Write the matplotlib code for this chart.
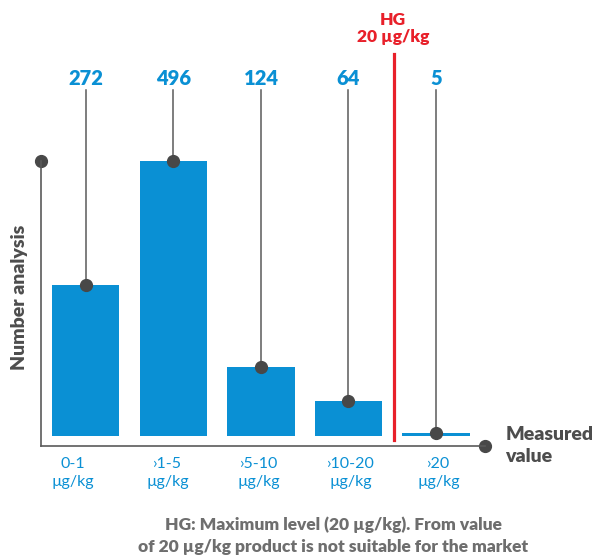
import numpy as np
import matplotlib
matplotlib.use("Agg")
import matplotlib.pyplot as plt

plt.rcParams['font.family'] = ['Lato', 'DejaVu Sans']

# analysis counts per measured-value class
classes = ["0-1", "›1-5", "›5-10", "›10-20", "›20"]
unit = "µg/kg"
counts = [272, 496, 124, 64, 5]
limit_label = ["HG", "20 µg/kg"]
footnote = ["HG: Maximum level (20 µg/kg). From value",
            "of 20 µg/kg product is not suitable for the market"]

blue = "#0a90d4"
dark = "#4d4d4d"
stem_col = "#5a5a5a"
red = "#e8202a"

W, H = 593, 558
fig = plt.figure(figsize=(W / 100, H / 100), dpi=100)

# plot area in pixels: x 41..485, y 161..446 (from top)
ax = fig.add_axes([41 / W, (H - 446) / H, (485 - 41) / W, (446 - 161) / H])
ax.set_xlim(-0.514, 4.56)
ax.set_ylim(-18, 496)

x = np.arange(len(counts))
ax.bar(x, counts, width=0.766, color=blue, zorder=2, clip_on=False)

# stems from each bar top up to its value label
label_y = 633
stem_top = 624
for xi, c in zip(x, counts):
    ax.plot([xi, xi], [c, stem_top], color=stem_col, lw=1.1, zorder=3, clip_on=False)
    ax.plot(xi, c, 'o', color="#484848", ms=8.5, zorder=4, clip_on=False)
    ax.text(xi, label_y, str(c), ha='center', va='baseline', fontsize=14.5,
            fontweight='heavy', color=blue, clip_on=False)

# limit line between >10-20 and >20
lim_x = 3.52
ax.plot([lim_x, lim_x], [-7, 689], color=red, lw=2.3, zorder=3, clip_on=False)
ax.text(lim_x - 0.01, 751, limit_label[0], ha='center', va='center', fontsize=12.5,
        fontweight='heavy', color=red, clip_on=False)
ax.text(lim_x - 0.01, 720, limit_label[1], ha='center', va='center', fontsize=12.5,
        fontweight='heavy', color=red, clip_on=False)

# axes with dots at their ends
for s in ['top', 'right']:
    ax.spines[s].set_visible(False)
for s in ['left', 'bottom']:
    ax.spines[s].set_color(stem_col)
    ax.spines[s].set_linewidth(1.2)
ax.plot([0], [1], 'o', color="#484848", ms=8.5, transform=ax.transAxes, clip_on=False)
ax.plot([1], [0], 'o', color="#484848", ms=8.5, transform=ax.transAxes, clip_on=False)
ax.set_xticks([])
ax.set_yticks([])

# class labels under the bars
shifts = [-0.15, -0.07, -0.02, 0.03, 0.03]
for xi, name, sh in zip(x, classes, shifts):
    ax.text(xi + sh, -50, name, ha='center', va='center', fontsize=11.5, color=blue, clip_on=False)
    ax.text(xi + sh, -83, unit, ha='center', va='center', fontsize=11.5, color=blue, clip_on=False)

ax.text(4.79, 3, "Measured", ha='left', va='center', fontsize=14, fontweight='heavy',
        color=dark, clip_on=False)
ax.text(4.79, -37, "value", ha='left', va='center', fontsize=14, fontweight='heavy',
        color=dark, clip_on=False)

fig.text(20 / W, (H - 297) / H, "Number analysis", rotation=90, ha='center', va='center',
         fontsize=14, fontweight='heavy', color=dark)

fig.text(333 / W, (H - 525) / H, footnote[0], ha='center', va='center', fontsize=12.5,
         fontweight='heavy', color="#6e6e6e")
fig.text(333 / W, (H - 547) / H, footnote[1], ha='center', va='center', fontsize=12.5,
         fontweight='heavy', color="#6e6e6e")

fig.savefig("out.png", dpi=100)
